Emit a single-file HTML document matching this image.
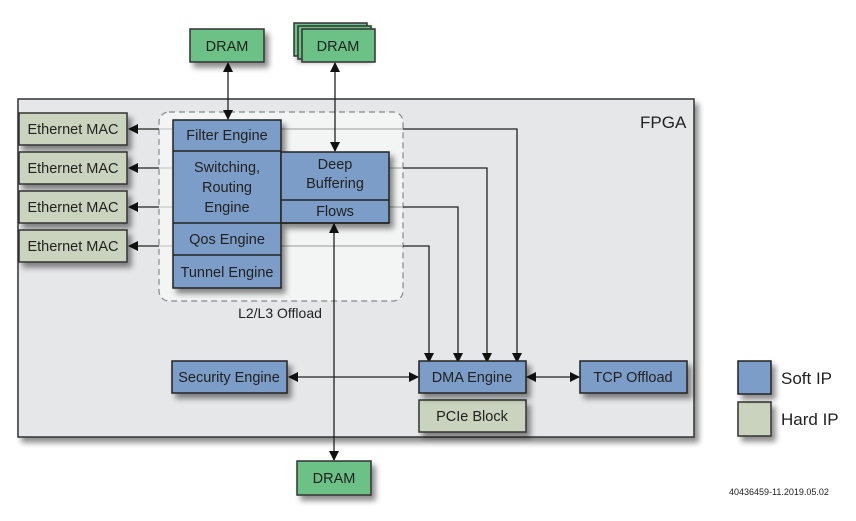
<!DOCTYPE html>
<html><head><meta charset="utf-8"><style>
html,body{margin:0;padding:0;background:#fff;}
svg{display:block;font-family:"Liberation Sans",sans-serif;}
</style></head><body>
<svg width="856" height="521" viewBox="0 0 856 521" xmlns="http://www.w3.org/2000/svg">
<defs>
<filter id="sh" x="-20%" y="-20%" width="150%" height="160%"><feGaussianBlur in="SourceAlpha" stdDeviation="3"/><feOffset dx="4" dy="5"/><feComponentTransfer><feFuncA type="linear" slope="0.45"/></feComponentTransfer><feMerge><feMergeNode/><feMergeNode in="SourceGraphic"/></feMerge></filter>
<marker id="ar" markerWidth="10" markerHeight="10" refX="9" refY="5" orient="auto-start-reverse" markerUnits="userSpaceOnUse"><path d="M0,0 L10,5 L0,10 z" fill="#111"/></marker>
</defs>
<!-- FPGA -->
<rect x="18" y="99" width="676" height="338" fill="#e6e7e9" stroke="#333" stroke-width="1.5" filter="url(#sh)"/>
<text x="640" y="128" font-size="17" fill="#222">FPGA</text>
<!-- dashed region -->
<rect x="159" y="112" width="244" height="189" rx="10" fill="#f3f4f4" stroke="#888" stroke-width="1.2" stroke-dasharray="6,4"/>
<text x="280" y="318" font-size="14" text-anchor="middle" fill="#222">L2/L3 Offload</text>
<!-- lines to DMA -->
<g fill="none" stroke="#222" stroke-width="1.3">
<path d="M281,129 H517 V362" marker-end="url(#ar)"/>
<path d="M389,168 H487 V362" marker-end="url(#ar)"/>
<path d="M389,207 H458 V362" marker-end="url(#ar)"/>
<path d="M281,246 H429 V362" marker-end="url(#ar)"/>
</g>
<g stroke="#ccc" stroke-width="1.3"><line x1="281" y1="129" x2="403" y2="129"/><line x1="389" y1="168" x2="403" y2="168"/><line x1="389" y1="207" x2="403" y2="207"/><line x1="281" y1="246" x2="403" y2="246"/></g>
<!-- MAC arrows -->
<g stroke="#222" stroke-width="1.3">
<line x1="159" y1="129" x2="129" y2="129" marker-end="url(#ar)"/>
<line x1="159" y1="168" x2="129" y2="168" marker-end="url(#ar)"/>
<line x1="159" y1="207" x2="129" y2="207" marker-end="url(#ar)"/>
<line x1="159" y1="246" x2="129" y2="246" marker-end="url(#ar)"/>
<line x1="228" y1="63" x2="228" y2="119" marker-start="url(#ar)" marker-end="url(#ar)"/>
<line x1="335" y1="63" x2="335" y2="151" marker-start="url(#ar)" marker-end="url(#ar)"/>
<line x1="334" y1="224" x2="334" y2="460" marker-start="url(#ar)" marker-end="url(#ar)"/>
<line x1="289" y1="377" x2="418" y2="377" marker-start="url(#ar)" marker-end="url(#ar)"/>
<line x1="527" y1="377" x2="579" y2="377" marker-start="url(#ar)" marker-end="url(#ar)"/>
</g>
<g stroke="#ccc" stroke-width="1.3"><line x1="159" y1="129" x2="173" y2="129"/><line x1="159" y1="168" x2="173" y2="168"/><line x1="159" y1="207" x2="173" y2="207"/><line x1="159" y1="246" x2="173" y2="246"/></g>
<!-- MACs -->
<g fill="#c9d3bd" stroke="#333" stroke-width="1.5" filter="url(#sh)">
<rect x="19" y="113" width="108" height="32"/><rect x="19" y="152" width="108" height="32"/><rect x="19" y="191" width="108" height="32"/><rect x="19" y="230" width="108" height="32"/>
<rect x="419" y="400" width="107" height="32"/>
<rect x="738" y="402" width="33" height="34"/>
</g>
<g font-size="14.5" fill="#222" text-anchor="middle">
<text x="73" y="134">Ethernet MAC</text><text x="73" y="173">Ethernet MAC</text><text x="73" y="212">Ethernet MAC</text><text x="73" y="251">Ethernet MAC</text>
<text x="472" y="421">PCIe Block</text>
</g>
<!-- DRAMs -->
<g fill="#6cc187" stroke="#333" stroke-width="1.5">
<rect x="190" y="29" width="74" height="33" filter="url(#sh)"/>
<rect x="294" y="23" width="73" height="33" filter="url(#sh)"/>
<rect x="298" y="26" width="73" height="33"/>
<rect x="302" y="29" width="73" height="33"/>
<rect x="297" y="461" width="74" height="34" filter="url(#sh)"/>
</g>
<g font-size="14.5" fill="#222" text-anchor="middle">
<text x="227" y="51">DRAM</text><text x="338" y="51">DRAM</text><text x="334" y="483">DRAM</text>
</g>
<!-- blue blocks -->
<g fill="#7b9dc7" stroke="#222" stroke-width="1.5">
<g filter="url(#sh)">
<rect x="173" y="120" width="108" height="168"/>
<rect x="281" y="152" width="108" height="71"/>
<rect x="172" y="361" width="115" height="32"/>
<rect x="419" y="361" width="107" height="32"/>
<rect x="580" y="361" width="107" height="32"/>
<rect x="738" y="361" width="33" height="33"/>
</g>
<line x1="173" y1="151" x2="281" y2="151"/><line x1="173" y1="223" x2="389" y2="223"/><line x1="173" y1="255" x2="281" y2="255"/><line x1="281" y1="200" x2="389" y2="200"/>
</g>
<g font-size="14.5" fill="#222" text-anchor="middle">
<text x="227" y="140">Filter Engine</text>
<text x="227" y="172">Switching,</text><text x="227" y="192">Routing</text><text x="227" y="212">Engine</text>
<text x="227" y="244">Qos Engine</text><text x="227" y="277">Tunnel Engine</text>
<text x="335" y="169">Deep</text><text x="335" y="188">Buffering</text><text x="335" y="216">Flows</text>
<text x="229" y="382">Security Engine</text>
<text x="472" y="382">DMA Engine</text>
<text x="633" y="382">TCP Offload</text>
</g>
<text x="781" y="384" font-size="17" fill="#222">Soft IP</text>
<text x="781" y="425" font-size="17" fill="#222">Hard IP</text>
<text x="729" y="495" font-size="9" fill="#222">40436459-11.2019.05.02</text>
</svg>
</body></html>
